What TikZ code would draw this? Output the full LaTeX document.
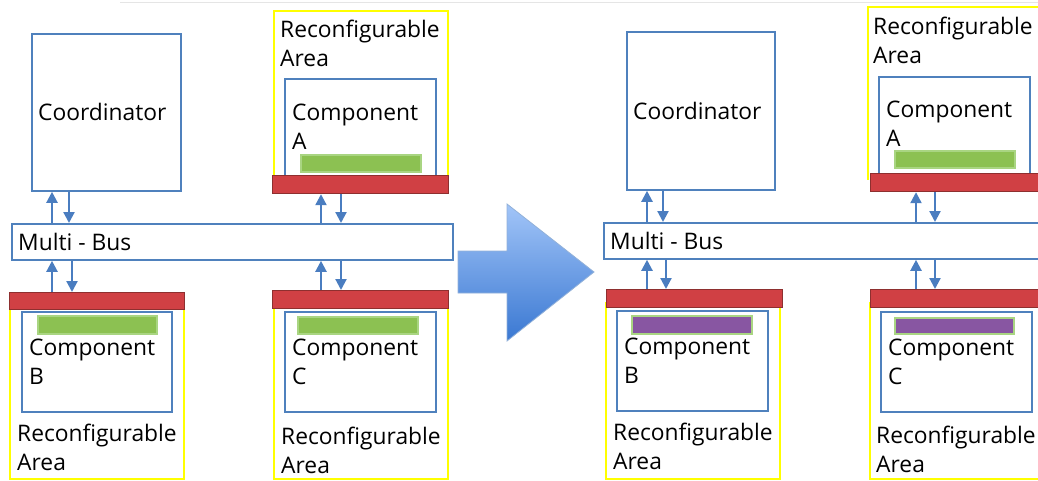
\documentclass[tikz,border=0pt]{standalone}
\usepackage{fontspec}
\setmainfont{Open Sans}
\usetikzlibrary{positioning,arrows.meta}

\definecolor{boxblue}{HTML}{4F81BD}
\definecolor{areayellow}{HTML}{FFFF00}
\definecolor{portred}{HTML}{D04044}
\definecolor{portedge}{HTML}{8E2F2F}
\definecolor{logicgreen}{HTML}{8CC152}
\definecolor{logicedge}{HTML}{A9D582}
\definecolor{logicpurple}{HTML}{8856A2}
\definecolor{arrowblue}{HTML}{4A7DC0}
\definecolor{shadetop}{HTML}{A2C5F8}
\definecolor{shadebottom}{HTML}{3A78D2}

\tikzset{
  compbox/.style={draw=boxblue, line width=1.8pt, fill=white, inner sep=0pt, anchor=north west},
  areabox/.style={draw=areayellow, line width=2.4pt},
  portbar/.style={draw=portedge, fill=portred, line width=1.2pt, inner sep=0pt, anchor=north west},
  greenbar/.style={fill=logicgreen, draw=logicedge, line width=1.5pt},
  purplebar/.style={fill=logicpurple, draw=logicedge, line width=1.5pt},
  busarrow/.style={draw=arrowblue, line width=2.2pt, -{Triangle[length=11pt,width=11pt]}},
  lbl/.style={inner sep=0pt, anchor=north west, align=left, font=\fontsize{22.8}{28.5}\selectfont}
}

\begin{document}
\begin{tikzpicture}[x=1pt, y=-1pt]
\useasboundingbox (0,0) rectangle (1038,481);

\draw[black!10, line width=1pt] (120,3) -- (1038,3);

% before
\begin{scope}
  \node[compbox, minimum width=149pt, minimum height=157pt] (coordL) at (31,33) {};
  \node[lbl, anchor=west] at ([xshift=7pt]coordL.west) {Coordinator};
  \node[compbox, minimum width=441pt, minimum height=36pt] (busL) at (11,223) {};
  \node[lbl, anchor=west] at ([xshift=7pt]busL.west) {Multi - Bus};

  % area A
  \draw[areabox] (274,182) -- (274,11) -- (448,11) -- (448,182);
  \node[lbl] at (280,20) {Reconfigurable\\Area};
  \draw[compbox] (285,178) -- (285,79) -- (436,79) -- (436,178);
  \node[lbl] at (292,104) {Component\\A};
  \draw[greenbar] (301,155) rectangle (421,172);
  \node[portbar, minimum width=176pt, minimum height=18pt] (portAL) at (272,175) {};

  % area B
  \draw[areabox] (10,305) rectangle (184,479);
  \draw[compbox] (22,312) rectangle (172,412);
  \draw[greenbar] (38,316) rectangle (157,334);
  \node[lbl] at (29,339) {Component\\B};
  \node[lbl] at (17,424) {Reconfigurable\\Area};
  \node[portbar, minimum width=175pt, minimum height=17pt] (portBL) at (9,292) {};

  % area C
  \draw[areabox] (274,305) rectangle (448,479);
  \draw[compbox] (285,312) rectangle (436,412);
  \draw[greenbar] (298,317) rectangle (418,334);
  \node[lbl] at (292,339) {Component\\C};
  \node[lbl] at (281,427) {Reconfigurable\\Area};
  \node[portbar, minimum width=176pt, minimum height=18pt] (portCL) at (272,290) {};

  \draw[busarrow] (busL.north -| 52,0) -- (coordL.south -| 52,0);
  \draw[busarrow] (coordL.south -| 69,0) -- (busL.north -| 69,0);
  \draw[busarrow] (busL.north -| 321,0) -- (portAL.south -| 321,0);
  \draw[busarrow] (portAL.south -| 341,0) -- (busL.north -| 341,0);
  \draw[busarrow] (portBL.north -| 52,0) -- (busL.south -| 52,0);
  \draw[busarrow] (busL.south -| 72,0) -- (portBL.north -| 72,0);
  \draw[busarrow] (portCL.north -| 321,0) -- (busL.south -| 321,0);
  \draw[busarrow] (busL.south -| 341,0) -- (portCL.north -| 341,0);
\end{scope}

% block arrow
\shade[top color=shadetop, bottom color=shadebottom, draw=arrowblue!60, line width=0.8pt]
  (458,251) -- (507,251) -- (507,204) -- (594,272) -- (507,341) -- (507,293) -- (458,293) -- cycle;

% after
\begin{scope}[xshift=595pt]
  \node[compbox, minimum width=148pt, minimum height=158pt] (coordR) at (31,31) {};
  \node[lbl, anchor=west] at ([xshift=7pt]coordR.west) {Coordinator};
  \node[compbox, minimum width=441pt, minimum height=36pt] (busR) at (8,222) {};
  \node[lbl, anchor=west] at ([xshift=7pt]busR.west) {Multi - Bus};

  % area A
  \draw[areabox] (273,180) -- (273,7) -- (449,7) -- (449,180);
  \node[lbl] at (278,17) {Reconfigurable\\Area};
  \draw[compbox] (284,176) -- (284,77) -- (435,77) -- (435,176);
  \node[lbl] at (291,101) {Component\\A};
  \draw[greenbar] (300,151) rectangle (420,168);
  \node[portbar, minimum width=176pt, minimum height=18pt] (portAR) at (275,173) {};

  % area B
  \draw[areabox] (11,303) rectangle (185,479);
  \draw[compbox] (22,311) rectangle (173,411);
  \draw[purplebar] (37,316) rectangle (157,334);
  \node[lbl] at (29,338) {Component\\B};
  \node[lbl] at (18,423) {Reconfigurable\\Area};
  \node[portbar, minimum width=176pt, minimum height=18pt] (portBR) at (11,289) {};

  % area C
  \draw[areabox] (275,303) rectangle (449,479);
  \draw[compbox] (286,312) rectangle (437,412);
  \draw[purplebar] (300,318) rectangle (419,334);
  \node[lbl] at (293,339) {Component\\C};
  \node[lbl] at (281,426) {Reconfigurable\\Area};
  \node[portbar, minimum width=176pt, minimum height=18pt] (portCR) at (275,289) {};

  \draw[busarrow] (busR.north -| 52,0) -- (coordR.south -| 52,0);
  \draw[busarrow] (coordR.south -| 68,0) -- (busR.north -| 68,0);
  \draw[busarrow] (busR.north -| 321,0) -- (portAR.south -| 321,0);
  \draw[busarrow] (portAR.south -| 340,0) -- (busR.north -| 340,0);
  \draw[busarrow] (portBR.north -| 52,0) -- (busR.south -| 52,0);
  \draw[busarrow] (busR.south -| 71,0) -- (portBR.north -| 71,0);
  \draw[busarrow] (portCR.north -| 321,0) -- (busR.south -| 321,0);
  \draw[busarrow] (busR.south -| 340,0) -- (portCR.north -| 340,0);
\end{scope}

\end{tikzpicture}
\end{document}
